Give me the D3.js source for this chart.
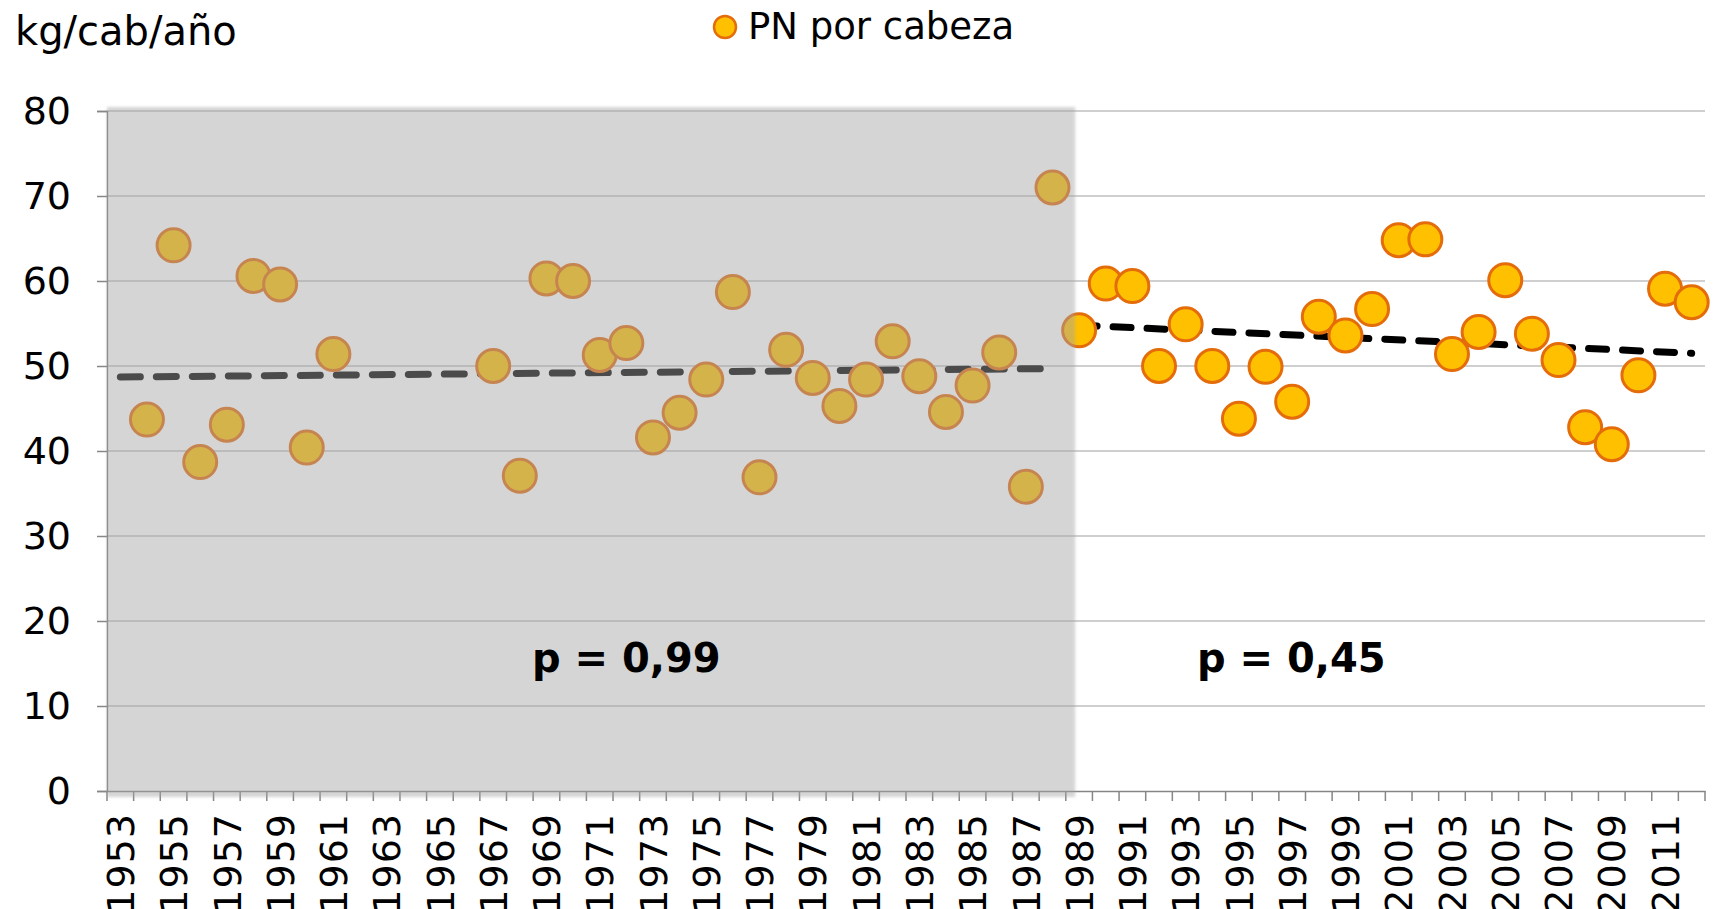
<!DOCTYPE html>
<html>
<head>
<meta charset="utf-8">
<script src="https://cdn.jsdelivr.net/npm/d3@7"></script>
<style>
  body { margin: 0; background: #fff; }
  text { font-family: "DejaVu Sans", sans-serif; fill: #000; }
</style>
</head>
<body>
<div id="chart"></div>
<script>
// categories on the x axis (one band per year)
var years = [1953,1954,1955,1956,1957,1958,1959,1960,1961,1962,1963,1964,1965,1966,1967,1968,1969,1970,
  1971,1972,1973,1974,1975,1976,1977,1978,1979,1980,1981,1982,1983,1984,1985,1986,1987,1988,1989,1990,
  1991,1992,1993,1994,1995,1996,1997,1998,1999,2000,2001,2002,2003,2004,2005,2006,2007,2008,2009,2010,
  2011,2012];

// first period (shaded)
var oldYears = [1954,1955,1956,1957,1958,1959,1960,1961,
  1967,1968,1969,1970,1971,1972,1973,1974,1975,1976,1977,1978,1979,1980,1981,1982,1983,1984,1985,1986,1987,1988];
var oldValues = [43.7,64.2,38.7,43.1,60.6,59.6,40.4,51.4,
  50.0,37.1,60.3,60.0,51.3,52.7,41.6,44.5,48.4,58.7,36.9,51.9,48.6,45.3,48.4,52.9,48.8,44.6,47.7,51.6,35.8,71.0];

// second period
var newYears = [1989,1990,1991,1992,1993,1994,1995,1996,1997,1998,1999,2000,2001,2002,2003,2004,2005,2006,
  2007,2008,2009,2010,2011,2012];
var newValues = [54.2,59.7,59.4,50.0,54.9,50.0,43.8,49.9,45.8,55.8,53.6,56.7,64.8,64.9,51.4,54.0,60.1,53.8,
  50.7,42.8,40.8,48.9,59.1,57.5];

// trend lines (end points)
var oldTrendYears = [1953, 1988];
var oldTrendValues = [48.7, 49.7];
var newTrendYears = [1989, 2012];
var newTrendValues = [54.8, 51.5];

var yTicks = [0,10,20,30,40,50,60,70,80];
var pLabels = ["p = 0,99", "p = 0,45"];

var width = 1716, height = 909;
var margin = {left: 107, right: 11, top: 111, bottom: 118};

var svg = d3.select("#chart").append("svg")
  .attr("width", width)
  .attr("height", height);

var x = d3.scaleBand()
  .domain(years)
  .range([margin.left, width - margin.right]);

var y = d3.scaleLinear()
  .domain([0, 80])
  .range([height - margin.bottom, margin.top]);

function cx(yr) { return x(yr) + x.bandwidth() / 2; }

// gridlines
svg.append("g")
  .selectAll("line")
  .data(yTicks.filter(function(d){ return d > 0; }))
  .enter().append("line")
    .attr("x1", margin.left)
    .attr("x2", width - margin.right)
    .attr("y1", function(d){ return y(d); })
    .attr("y2", function(d){ return y(d); })
    .attr("stroke", "#bfbfbf")
    .attr("stroke-width", 1.5);

// y axis
var yAxis = svg.append("g")
  .attr("transform", "translate(" + margin.left + ",0)")
  .call(d3.axisLeft(y).tickValues(yTicks).tickSize(10).tickPadding(26));
yAxis.select(".domain").attr("stroke", "#868686").attr("stroke-width", 1.5);
yAxis.selectAll(".tick line").attr("stroke", "#868686").attr("stroke-width", 1.5);
yAxis.selectAll("text").style("font-size", "38px").style("font-family", "DejaVu Sans");

// x axis: ticks on band edges, labels every other year
var xAxis = svg.append("g")
  .attr("transform", "translate(0," + y(0) + ")")
  .call(d3.axisBottom(x)
    .tickValues(years.filter(function(d,i){ return i % 2 === 0; }))
    .tickSize(0)
    .tickSizeOuter(0));
xAxis.select(".domain").attr("stroke", "#868686").attr("stroke-width", 1.5);
xAxis.selectAll("text")
  .attr("transform", "rotate(-90)")
  .attr("x", -22)
  .attr("y", 0)
  .attr("dy", "0.36em")
  .style("text-anchor", "end")
  .style("font-size", "38px")
  .style("letter-spacing", "1px")
  .style("font-family", "DejaVu Sans");

xAxis.selectAll(".edge")
  .data(years.concat([null]))
  .enter().append("line")
    .attr("class", "edge")
    .attr("x1", function(d,i){ return margin.left + i * x.step(); })
    .attr("x2", function(d,i){ return margin.left + i * x.step(); })
    .attr("y1", 0)
    .attr("y2", 10)
    .attr("stroke", "#868686")
    .attr("stroke-width", 1.5);

// trend lines
var trendLine = d3.line()
  .x(function(d){ return cx(d[0]); })
  .y(function(d){ return y(d[1]); });

svg.append("path")
  .datum(d3.zip(oldTrendYears, oldTrendValues))
  .attr("d", trendLine)
  .attr("fill", "none")
  .attr("stroke", "#000")
  .attr("stroke-width", 7)
  .attr("stroke-linecap", "round")
  .attr("stroke-dasharray", "20 16");

svg.append("path")
  .datum(d3.zip(newTrendYears, newTrendValues))
  .attr("d", trendLine)
  .attr("fill", "none")
  .attr("stroke", "#000")
  .attr("stroke-width", 7)
  .attr("stroke-linecap", "round")
  .attr("stroke-dasharray", "18 16");

// markers
var points = d3.zip(oldYears, oldValues).concat(d3.zip(newYears, newValues));
svg.append("g")
  .selectAll("circle")
  .data(points)
  .enter().append("circle")
    .attr("cx", function(d){ return cx(d[0]); })
    .attr("cy", function(d){ return y(d[1]); })
    .attr("r", 16.5)
    .attr("fill", "#ffc000")
    .attr("stroke", "#e46c0a")
    .attr("stroke-width", 3);

// translucent grey panel over the first period
var defs = svg.append("defs");
defs.append("filter").attr("id", "soft")
  .append("feGaussianBlur").attr("stdDeviation", 1.5);

svg.append("rect")
  .attr("x", margin.left)
  .attr("y", 107)
  .attr("width", cx(1989) - 4 - margin.left)
  .attr("height", y(0) + 6 - 107)
  .attr("fill", "rgb(164,164,164)")
  .attr("fill-opacity", 0.46)
  .attr("filter", "url(#soft)");

// p values
svg.append("text")
  .attr("x", 532).attr("y", 672)
  .style("font-size", "40px").style("font-weight", "bold")
  .text(pLabels[0]);
svg.append("text")
  .attr("x", 1197).attr("y", 672)
  .style("font-size", "40px").style("font-weight", "bold")
  .text(pLabels[1]);

// unit label
svg.append("text")
  .attr("x", 15).attr("y", 45)
  .style("font-size", "40px")
  .text("kg/cab/año");

// legend
svg.append("circle")
  .attr("cx", 725).attr("cy", 27).attr("r", 11)
  .attr("fill", "#ffc000")
  .attr("stroke", "#e46c0a")
  .attr("stroke-width", 2.5);
svg.append("text")
  .attr("x", 748).attr("y", 39)
  .style("font-size", "37px")
  .text("PN por cabeza");
</script>
</body>
</html>
